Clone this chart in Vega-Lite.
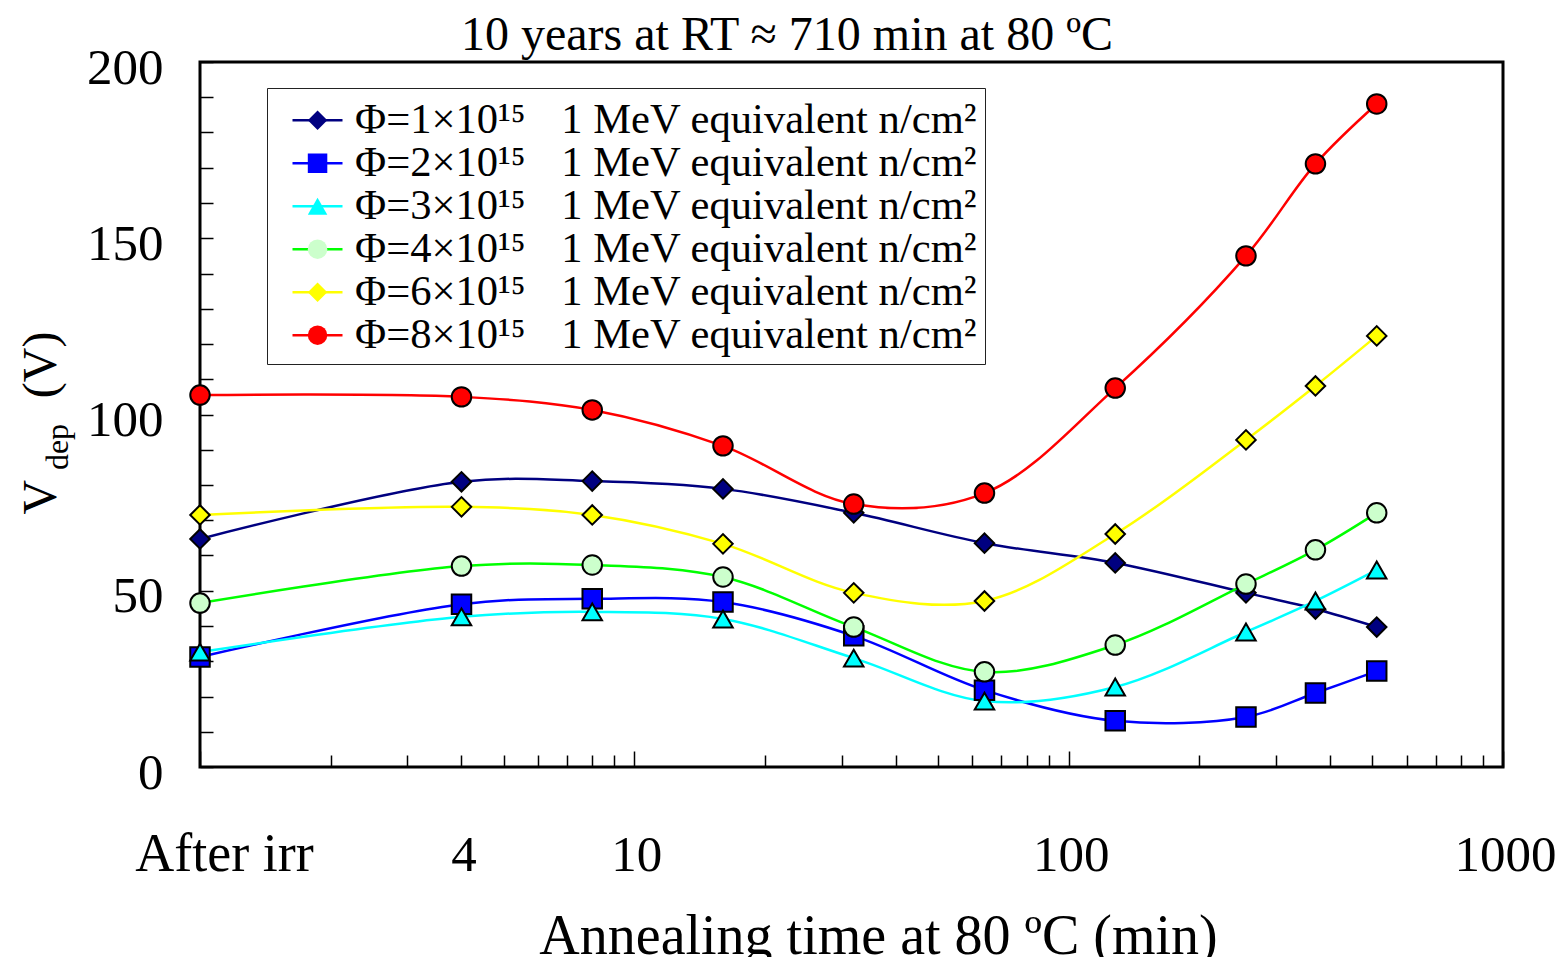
{
  "$schema": "https://vega.github.io/schema/vega-lite/v6.json",
  "width": 1303,
  "height": 705,
  "autosize": {"type": "none"},
  "padding": {"left": 200, "top": 62, "right": 63, "bottom": 190},
  "background": "white",
  "data": {
    "values": [
      {"phi": "1", "t": 1, "v": 64.7}, {"phi": "1", "t": 4, "v": 80.9}, {"phi": "1", "t": 8, "v": 81.1}, {"phi": "1", "t": 16, "v": 78.9}, {"phi": "1", "t": 32, "v": 72.1},
      {"phi": "1", "t": 64, "v": 63.5}, {"phi": "1", "t": 128, "v": 57.9}, {"phi": "1", "t": 256, "v": 49.4}, {"phi": "1", "t": 370, "v": 44.8}, {"phi": "1", "t": 512, "v": 39.7},
      {"phi": "2", "t": 1, "v": 31.2}, {"phi": "2", "t": 4, "v": 46.2}, {"phi": "2", "t": 8, "v": 47.7}, {"phi": "2", "t": 16, "v": 46.8}, {"phi": "2", "t": 32, "v": 37.2},
      {"phi": "2", "t": 64, "v": 21.8}, {"phi": "2", "t": 128, "v": 13.1}, {"phi": "2", "t": 256, "v": 14.2}, {"phi": "2", "t": 370, "v": 21.0}, {"phi": "2", "t": 512, "v": 27.2},
      {"phi": "3", "t": 1, "v": 32.6}, {"phi": "3", "t": 4, "v": 42.6}, {"phi": "3", "t": 8, "v": 44.0}, {"phi": "3", "t": 16, "v": 42.0}, {"phi": "3", "t": 32, "v": 30.9},
      {"phi": "3", "t": 64, "v": 18.7}, {"phi": "3", "t": 128, "v": 22.7}, {"phi": "3", "t": 256, "v": 38.3}, {"phi": "3", "t": 370, "v": 47.1}, {"phi": "3", "t": 512, "v": 55.9},
      {"phi": "4", "t": 1, "v": 46.5}, {"phi": "4", "t": 4, "v": 57.0}, {"phi": "4", "t": 8, "v": 57.3}, {"phi": "4", "t": 16, "v": 53.9}, {"phi": "4", "t": 32, "v": 39.7},
      {"phi": "4", "t": 64, "v": 27.0}, {"phi": "4", "t": 128, "v": 34.6}, {"phi": "4", "t": 256, "v": 51.9}, {"phi": "4", "t": 370, "v": 61.6}, {"phi": "4", "t": 512, "v": 72.1},
      {"phi": "6", "t": 1, "v": 71.5}, {"phi": "6", "t": 4, "v": 73.8}, {"phi": "6", "t": 8, "v": 71.5}, {"phi": "6", "t": 16, "v": 63.3}, {"phi": "6", "t": 32, "v": 49.4},
      {"phi": "6", "t": 64, "v": 47.1}, {"phi": "6", "t": 128, "v": 66.1}, {"phi": "6", "t": 256, "v": 92.8}, {"phi": "6", "t": 370, "v": 108.1}, {"phi": "6", "t": 512, "v": 122.3},
      {"phi": "8", "t": 1, "v": 105.5}, {"phi": "8", "t": 4, "v": 105.0}, {"phi": "8", "t": 8, "v": 101.3}, {"phi": "8", "t": 16, "v": 91.1}, {"phi": "8", "t": 32, "v": 74.6},
      {"phi": "8", "t": 64, "v": 77.7}, {"phi": "8", "t": 128, "v": 107.5}, {"phi": "8", "t": 256, "v": 145.0}, {"phi": "8", "t": 370, "v": 171.1}, {"phi": "8", "t": 512, "v": 188.1}
    ]
  },
  "layer": [
    {
      "mark": {"type": "line", "interpolate": "catmull-rom", "strokeWidth": 2.5},
      "encoding": {
        "x": {
          "field": "t",
          "type": "quantitative",
          "scale": {"type": "log", "domain": [1, 1000], "nice": false},
          "axis": {
            "values": [1, 2, 3, 4, 5, 6, 7, 8, 9, 10, 20, 30, 40, 50, 60, 70, 80, 90, 100, 200, 300, 400, 500, 600, 700, 800, 900, 1000],
            "tickSize": {"condition": {"test": "indexof([1, 10, 100, 1000], datum.value) >= 0", "value": -16}, "value": -12},
            "labelPadding": {"condition": {"test": "indexof([1, 10, 100, 1000], datum.value) >= 0", "value": 119}, "value": 115},
            "labelOffset": {"condition": {"test": "datum.value == 1", "value": 24}, "value": 2},
            "labelFontSize": {"condition": {"test": "datum.value == 1", "value": 54}, "value": 51},
            "labelExpr": "datum.value == 1 ? 'After irr' : indexof([4, 10, 100, 1000], datum.value) >= 0 ? format(datum.value, 'd') : ''",
            "labelBaseline": "alphabetic",
            "labelFlush": false,
            "labelOverlap": false,
            "labelBound": false,
            "tickWidth": 1.5,
            "domain": false,
            "grid": false,
            "title": "Annealing time at 80 ºC (min)",
            "titleFontSize": 56,
            "titleX": 678,
            "titleY": 186,
            "titleAlign": "center",
            "titleBaseline": "alphabetic"
          }
        },
        "y": {
          "field": "v",
          "type": "quantitative",
          "scale": {"domain": [0, 200], "nice": false},
          "axis": {
            "values": [0, 10, 20, 30, 40, 50, 60, 70, 80, 90, 100, 110, 120, 130, 140, 150, 160, 170, 180, 190, 200],
            "tickSize": -13,
            "tickWidth": 1.5,
            "labelPadding": 50,
            "labelOffset": 6,
            "labelExpr": "datum.value % 50 == 0 ? datum.label : ''",
            "labelFontSize": 51,
            "labelAlign": "right",
            "labelBaseline": "middle",
            "labelOverlap": false,
            "labelFlush": false,
            "domain": false,
            "grid": false,
            "title": "V\u00a0\u00a0\u00a0\u00a0\u00a0\u00a0\u2009(V)",
            "titleFontSize": 48,
            "titleAngle": 270,
            "titleX": -145,
            "titleY": 360.5,
            "titleAlign": "center",
            "titleBaseline": "alphabetic"
          }
        },
        "stroke": {
          "field": "phi",
          "type": "nominal",
          "scale": {
            "domain": ["1", "2", "3", "4", "6", "8"],
            "range": ["#000080", "#0000ff", "#00ffff", "#00ff00", "#ffff00", "#ff0000"]
          },
          "legend": {
            "title": " ",
            "titleFontSize": 1,
            "titlePadding": 5,
            "orient": "none",
            "legendX": 67,
            "legendY": 26,
            "symbolType": "stroke",
            "symbolSize": 2500,
            "symbolStrokeWidth": 2.5,
            "padding": 7,
            "symbolOffset": 17,
            "labelOffset": 11,
            "labelFontSize": 42.6,
            "labelLimit": 1000,
            "clipHeight": 38.4,
            "rowPadding": 0,
            "fillColor": "white",
            "strokeColor": "#222222",
            "labelExpr": "'Φ=' + datum.label + '×10¹⁵\u00a0\u00a0\u00a0\u200a1 MeV equivalent n/cm²'",
            "zindex": 1
          }
        }
      }
    },
    {
      "mark": {"type": "point", "filled": true, "size": 380, "stroke": "black", "strokeWidth": 2, "opacity": 1},
      "encoding": {
        "x": {
          "field": "t",
          "type": "quantitative",
          "axis": {
            "orient": "top",
            "labels": false,
            "ticks": false,
            "domain": false,
            "grid": false,
            "title": "10 years at RT ≈ 710 min at 80 ºC",
            "titleFontSize": 48,
            "titleX": 586.5,
            "titleY": -13,
            "titleAlign": "center",
            "titleBaseline": "alphabetic"
          }
        },
        "y": {
          "field": "v",
          "type": "quantitative",
          "axis": {
            "orient": "left",
            "labels": false,
            "ticks": false,
            "domain": false,
            "grid": false,
            "title": "dep",
            "titleFontSize": 32,
            "titleAngle": 270,
            "titleX": -133,
            "titleY": 384.5,
            "titleAlign": "center",
            "titleBaseline": "alphabetic"
          }
        },
        "fill": {
          "field": "phi",
          "type": "nominal",
          "scale": {"range": ["#000080", "#0000ff", "#00ffff", "#ccffcc", "#ffff00", "#ff0000"]},
          "legend": null
        },
        "shape": {
          "field": "phi",
          "type": "nominal",
          "scale": {"range": ["diamond", "square", "triangle-up", "circle", "diamond", "circle"]},
          "legend": {
            "title": " ",
            "titleFontSize": 1,
            "titlePadding": 5,
            "orient": "none",
            "legendX": 67,
            "legendY": 26,
            "symbolSize": 380,
            "symbolStrokeColor": "black",
            "symbolStrokeWidth": 2,
            "padding": 7,
            "symbolOffset": 22.25,
            "labelOpacity": 0,
            "labelFontSize": 42.6,
            "labelLimit": 1000,
            "clipHeight": 38.4,
            "rowPadding": 0,
            "labelExpr": "'Φ=' + datum.label + '×10¹⁵\u00a0\u00a0\u00a0\u200a1 MeV equivalent n/cm²'",
            "encode": {"symbols": {"fill": {"signal": "scale('fill', datum.value)"}, "stroke": {"value": "black"}, "strokeWidth": {"value": 2}, "size": {"value": 380}, "opacity": {"value": 1}}},
            "zindex": 2
          }
        }
      }
    }
  ],
  "resolve": {"axis": {"x": "independent", "y": "independent"}},
  "config": {
    "font": "Liberation Serif",
    "view": {"stroke": "black", "strokeWidth": 3},
    "axis": {
      "labelFont": "Liberation Serif",
      "titleFont": "Liberation Serif",
      "labelColor": "black",
      "titleColor": "black",
      "tickColor": "black",
      "labelFontWeight": "normal",
      "titleFontWeight": "normal"
    },
    "legend": {
      "labelFont": "Liberation Serif",
      "labelColor": "black"
    }
  }
}
